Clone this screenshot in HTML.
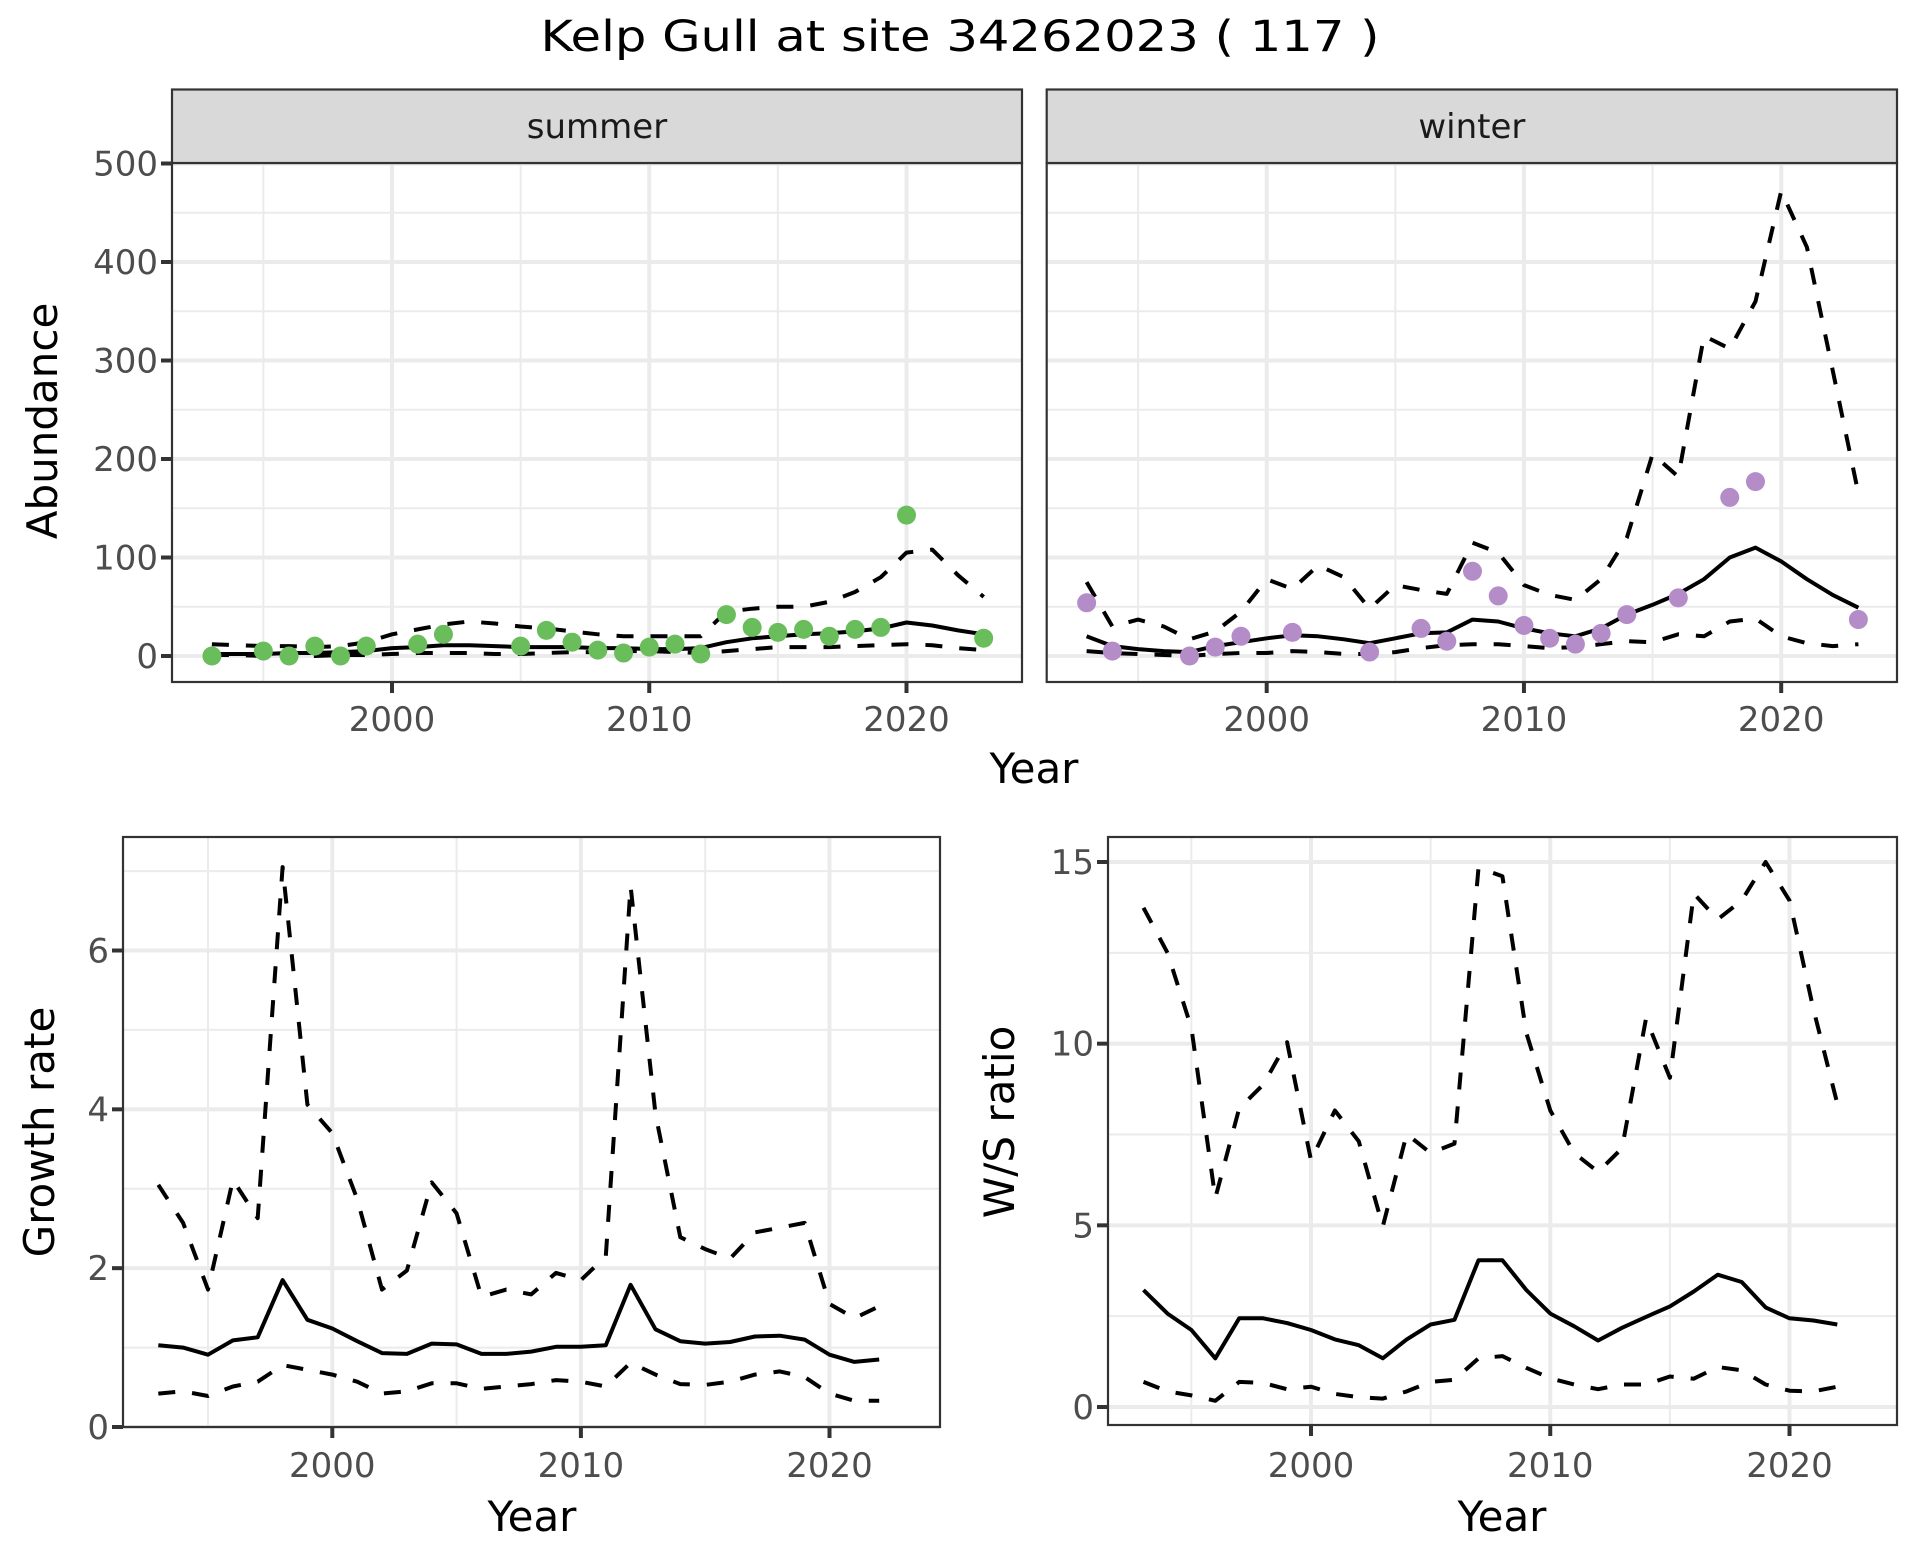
<!DOCTYPE html>
<html><head><meta charset="utf-8"><style>
html,body{margin:0;padding:0;background:#fff;}
svg{display:block;font-family:"DejaVu Sans","Liberation Sans",sans-serif;}
</style></head><body>
<svg id="chart" width="1920" height="1560" viewBox="0 0 1920 1560" xmlns="http://www.w3.org/2000/svg">
<rect width="1920" height="1560" fill="#fff"/>
<text x="960" y="51" font-size="43" text-anchor="middle" fill="#000" textLength="839" lengthAdjust="spacingAndGlyphs">Kelp Gull at site 34262023 ( 117 )</text>
<g id="root"></g>
</svg>
<script>
// ---- data ----
const yearsAbund = [1993,1994,1995,1996,1997,1998,1999,2000,2001,2002,2003,2004,2005,2006,2007,2008,2009,2010,2011,2012,2013,2014,2015,2016,2017,2018,2019,2020,2021,2022,2023];
const summerMean = [2,2,2,3,3,4,5,8,9,11,11,10,9,9,9,8,8,7,7,8,14,18,20,22,23,25,28,34,31,26,22];
const summerUpper = [12,11,10,10,9,10,14,22,27,32,35,33,30,28,25,22,20,20,20,20,45,48,50,50,55,65,80,105,108,82,60];
const summerLower = [1,1,0,0,0,1,1,2,3,3,3,2,2,3,4,4,5,5,4,3,5,7,9,9,9,10,11,12,11,8,6];
const summerPtYears = [1993,1995,1996,1997,1998,1999,2001,2002,2005,2006,2007,2008,2009,2010,2011,2012,2013,2014,2015,2016,2017,2018,2019,2020,2023];
const summerPtVals = [0,5,0,10,0,10,12,22,10,26,14,6,3,9,12,2,42,29,24,27,20,27,29,143,18];
const winterMean = [20,10,7,5,4,10,14,18,21,20,17,13,18,23,24,37,35,28,23,20,28,42,52,63,78,100,110,96,78,62,49];
const winterUpper = [75,30,37,30,17,25,45,78,68,92,80,48,72,67,63,115,105,72,62,57,78,120,205,182,325,312,360,472,415,290,165];
const winterLower = [5,3,2,1,0,2,3,3,5,4,2,2,4,8,11,12,12,10,8,9,12,15,14,22,20,35,38,20,13,10,12];
const winterPtYears = [1993,1994,1997,1998,1999,2001,2004,2006,2007,2008,2009,2010,2011,2012,2013,2014,2016,2018,2019,2023];
const winterPtVals = [54,5,0,9,20,24,4,28,15,86,61,31,18,12,23,42,59,161,177,37];
const yearsRate = [1993,1994,1995,1996,1997,1998,1999,2000,2001,2002,2003,2004,2005,2006,2007,2008,2009,2010,2011,2012,2013,2014,2015,2016,2017,2018,2019,2020,2021,2022];
const growthMean = [1.03,1.00,0.91,1.09,1.13,1.85,1.35,1.24,1.08,0.93,0.92,1.05,1.04,0.92,0.92,0.95,1.01,1.01,1.03,1.79,1.23,1.08,1.05,1.07,1.14,1.15,1.10,0.91,0.82,0.85];
const growthUpper = [3.05,2.57,1.73,3.11,2.63,7.05,4.06,3.70,2.87,1.73,1.97,3.08,2.69,1.64,1.73,1.67,1.94,1.85,2.15,6.81,3.94,2.39,2.24,2.12,2.45,2.51,2.57,1.55,1.37,1.52];
const growthLower = [0.42,0.45,0.39,0.51,0.57,0.78,0.72,0.66,0.57,0.42,0.45,0.55,0.55,0.48,0.51,0.54,0.59,0.57,0.51,0.81,0.66,0.54,0.53,0.57,0.66,0.70,0.63,0.42,0.33,0.33];
const ratioMean = [3.22,2.57,2.12,1.34,2.44,2.44,2.31,2.12,1.86,1.70,1.34,1.86,2.27,2.40,4.04,4.04,3.22,2.57,2.22,1.83,2.18,2.48,2.77,3.18,3.64,3.44,2.74,2.44,2.38,2.27];
const ratioUpper = [13.74,12.5,10.43,5.75,8.22,8.87,10.04,6.79,8.16,7.31,4.97,7.51,6.99,7.25,14.84,14.61,10.3,8.16,6.99,6.47,7.12,10.69,9.06,14.13,13.42,13.94,15.0,13.94,10.95,8.35];
const ratioLower = [0.69,0.43,0.32,0.17,0.69,0.66,0.49,0.56,0.36,0.27,0.23,0.43,0.69,0.75,1.34,1.40,1.08,0.79,0.62,0.49,0.62,0.62,0.84,0.78,1.10,1.01,0.62,0.45,0.43,0.56];
const xTicks = [2000,2010,2020];
const xTickLabels = ["2000","2010","2020"];
const abundTicks = [0,100,200,300,400,500];
const growthTicks = [0,2,4,6];
const ratioTicks = [0,5,10,15];

const NS = "http://www.w3.org/2000/svg";
const root = document.getElementById('root');
function mk(tag, attrs, parent){ const e=document.createElementNS(NS,tag); for(const k in attrs) e.setAttribute(k,attrs[k]); (parent||root).appendChild(e); return e; }
function lin(d0,d1,r0,r1){ return v => r0+(v-d0)*(r1-r0)/(d1-d0); }

function panel(cfg){
  const g = mk('g',{});
  
  
  const sx = lin(2000,2020,cfg.x2000,cfg.x2020);
  const sy = lin(cfg.yd0,cfg.yd1,cfg.yr0,cfg.yr1);
  mk('rect',{x:cfg.L,y:cfg.T,width:cfg.R-cfg.L,height:cfg.B-cfg.T,fill:'#fff'},g);
  // minor grid
  cfg.yMinor.forEach(v=>{ const y=sy(v); if(y>cfg.T&&y<cfg.B) mk('line',{x1:cfg.L,x2:cfg.R,y1:y,y2:y,stroke:'#EBEBEB','stroke-width':2},g); });
  [1995,2005,2015].forEach(v=>{ const x=sx(v); mk('line',{x1:x,x2:x,y1:cfg.T,y2:cfg.B,stroke:'#EBEBEB','stroke-width':2},g); });
  cfg.yTicks.forEach(v=>{ const y=sy(v); const l=mk('line',{x1:cfg.L,x2:cfg.R,y1:y,y2:y,stroke:'#EBEBEB','stroke-width':4},g);
      });
  xTicks.forEach(v=>{ const x=sx(v); const l=mk('line',{x1:x,x2:x,y1:cfg.T,y2:cfg.B,stroke:'#EBEBEB','stroke-width':4},g);
      });
  const clip = 'clip'+cfg.name;
  const cp = mk('clipPath',{id:clip},g); mk('rect',{x:cfg.L,y:cfg.T,width:cfg.R-cfg.L,height:cfg.B-cfg.T},cp);
  const lg = mk('g',{'clip-path':'url(#'+clip+')'},g);
  function line(ys,vals,dash,nm){
    const pts = ys.map((yr,i)=>sx(yr).toFixed(1)+','+sy(vals[i]).toFixed(1)).join(' ');
    const p = mk('polyline',{points:pts,fill:'none',stroke:'#000','stroke-width':4,'stroke-linejoin':'round'},lg);
    if(dash) p.setAttribute('stroke-dasharray','17 17');
    
    
  }
  line(cfg.years,cfg.upper,true,'upper-bound-line');
  line(cfg.years,cfg.mean,false,'mean-line');
  line(cfg.years,cfg.lower,true,'lower-bound-line');
  if(cfg.ptYears){
    cfg.ptYears.forEach((yr,i)=>{
      const c = mk('circle',{cx:sx(yr),cy:sy(cfg.ptVals[i]),r:9.5,fill:cfg.ptColor},lg);
      
      
    });
  }
  const border = mk('rect',{x:cfg.L,y:cfg.T,width:cfg.R-cfg.L,height:cfg.B-cfg.T,fill:'none',stroke:'#333','stroke-width':2.2},g);
  
  
  // x ticks
  xTicks.forEach((v,i)=>{ const x=sx(v);
    mk('line',{x1:x,x2:x,y1:cfg.B,y2:cfg.B+11,stroke:'#333','stroke-width':4},g);
    const t=mk('text',{x:x,y:cfg.xLabY,'font-size':34,'text-anchor':'middle',fill:'#4D4D4D'},g);
    t.textContent=xTickLabels[i];
    
    
  });
  if(cfg.yLabels){
    cfg.yTicks.forEach(v=>{ const y=sy(v);
      mk('line',{x1:cfg.L-11,x2:cfg.L,y1:y,y2:y,stroke:'#333','stroke-width':4},g);
      const t=mk('text',{x:cfg.L-14,y:y+12,'font-size':34,'text-anchor':'end',fill:'#4D4D4D'},g);
      t.textContent=String(v);
      
      
    });
  }
  if(cfg.strip){
    const s=mk('rect',{x:cfg.L,y:89.5,width:cfg.R-cfg.L,height:cfg.T-89.5,fill:'#D9D9D9',stroke:'#333','stroke-width':2.2},g);
    
    
    const t=mk('text',{x:(cfg.L+cfg.R)/2,y:138,'font-size':34,'text-anchor':'middle',fill:'#1A1A1A'},g);
    t.textContent=cfg.strip;
    
    
  }
}

panel({name:'summer-panel',L:172,R:1022,T:163,B:682,x2000:392,x2020:906.5,yd0:0,yd1:500,yr0:656,yr1:163.5,
  yTicks:abundTicks,yMinor:[50,150,250,350,450,550],yLabels:true,xLabY:731,strip:'summer',
  years:yearsAbund,mean:summerMean,upper:summerUpper,lower:summerLower,ptYears:summerPtYears,ptVals:summerPtVals,ptColor:'#6ABD5B'});
panel({name:'winter-panel',L:1046.7,R:1897,T:163,B:682,x2000:1266.7,x2020:1781.2,yd0:0,yd1:500,yr0:656,yr1:163.5,
  yTicks:abundTicks,yMinor:[50,150,250,350,450,550],yLabels:false,xLabY:731,strip:'winter',
  years:yearsAbund,mean:winterMean,upper:winterUpper,lower:winterLower,ptYears:winterPtYears,ptVals:winterPtVals,ptColor:'#B48CC8'});
panel({name:'growth-rate-panel',L:123,R:940,T:837,B:1427,x2000:332.3,x2020:829.5,yd0:0,yd1:6,yr0:1427,yr1:950.5,
  yTicks:growthTicks,yMinor:[1,3,5,7],yLabels:true,xLabY:1477,
  years:yearsRate,mean:growthMean,upper:growthUpper,lower:growthLower});
panel({name:'ws-ratio-panel',L:1108,R:1897,T:837,B:1425,x2000:1311,x2020:1789.5,yd0:0,yd1:15,yr0:1407,yr1:862,
  yTicks:ratioTicks,yMinor:[2.5,7.5,12.5],yLabels:true,xLabY:1477,
  years:yearsRate,mean:ratioMean,upper:ratioUpper,lower:ratioLower});

function title(txt,x,y,rot,nm){
  const t=mk('text',{x:x,y:y,'font-size':42,'text-anchor':'middle',fill:'#000'});
  if(rot) t.setAttribute('transform','rotate(-90 '+x+' '+y+')');
  t.textContent=txt;
  
  
}
title('Year',1034,783,false,'x-axis-title-top');
title('Abundance',57,421,true,'y-axis-title-abundance');
title('Year',532,1531,false,'x-axis-title-growth');
title('Growth rate',54,1132,true,'y-axis-title-growth');
title('Year',1502,1531,false,'x-axis-title-ratio');
title('W/S ratio',1014,1122,true,'y-axis-title-ratio');
</script>
</body></html>
